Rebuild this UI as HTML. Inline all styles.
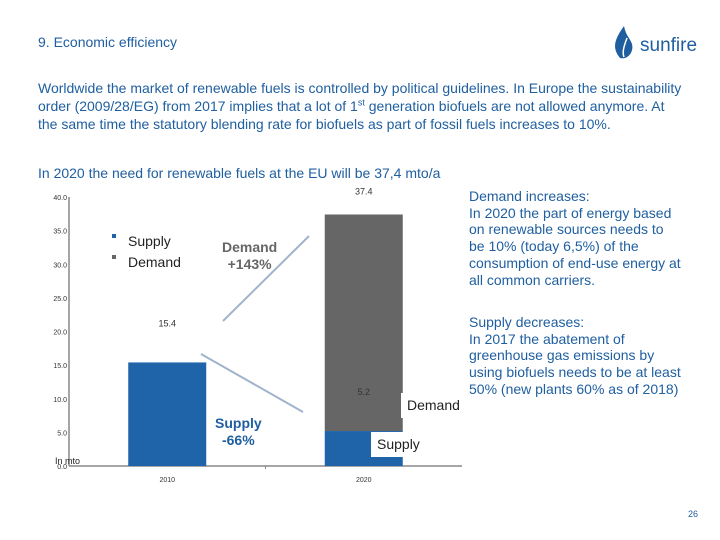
<!DOCTYPE html>
<html><head><meta charset="utf-8"><style>
body{margin:0;width:720px;height:540px;background:#fff;font-family:"Liberation Sans",sans-serif;position:relative;overflow:hidden}
.a{position:absolute}
</style></head><body>
<div class="a" style="left:38px;top:34px;font-size:14px;color:#1f5fa0">9. Economic efficiency</div>
<div class="a" style="left:610px;top:22px;">
<svg width="100" height="40" viewBox="0 0 100 40"><path d="M14 4 C 4 18, 2 26, 10 36 C 18 38, 24 30, 22 22 C 20 16, 16 14, 14 4 Z" fill="#1f5fa0"/><path d="M17 16 C 14 24, 12 30, 14 35" stroke="#fff" stroke-width="1.5" fill="none"/><text x="30" y="29" font-family="Liberation Sans" font-size="19" fill="#1f5fa0">sunfire</text></svg>
</div>
<div class="a" style="left:38px;top:79px;white-space:nowrap;font-size:14px;line-height:18px;color:#1f5fa0">Worldwide the market of renewable fuels is controlled by political guidelines. In Europe the sustainability<br>order (2009/28/EG) from 2017 implies that a lot of 1<sup style="font-size:9px;line-height:0">st</sup> generation biofuels are not allowed anymore. At<br>the same time the statutory blending rate for biofuels as part of fossil fuels increases to 10%.</div>
<div class="a" style="left:38px;top:165px;font-size:14px;color:#1f5fa0">In 2020 the need for renewable fuels at the EU will be 37,4 mto/a</div>
<div class="a" style="left:469px;top:188px;white-space:nowrap;font-size:14px;line-height:16.7px;color:#1f5fa0">Demand increases:<br>In 2020 the part of energy based<br>on renewable sources needs to<br>be 10% (today 6,5%) of the<br>consumption of end-use energy at<br>all common carriers.</div>
<div class="a" style="left:469px;top:314px;white-space:nowrap;font-size:14px;line-height:16.7px;color:#1f5fa0">Supply decreases:<br>In 2017 the abatement of<br>greenhouse gas emissions by<br>using biofuels needs to be at least<br>50% (new plants 60% as of 2018)</div>
<div class="a" style="left:688px;top:509px;font-size:9px;color:#1f5fa0">26</div>
<svg class="a" style="left:0;top:0" width="720" height="540" id="chart"></svg>
<script>
const categories=["2010","2020"];
const supplyValues=[15.4,5.2];
const demandValues=[15.4,37.4];
const yTicks=[0,5,10,15,20,25,30,35,40];
const svg=document.getElementById('chart');
const NS='http://www.w3.org/2000/svg';
const y0=466,yTop=197,yMax=40,x0=69,xEnd=462;
const y=v=>y0-(v/yMax)*(y0-yTop);
const xc=i=>x0+(xEnd-x0)*(i+0.5)/categories.length;
const bw=78;
function mk(t,a,txt){const e=document.createElementNS(NS,t);for(const k in a)e.setAttribute(k,a[k]);if(txt!==undefined)e.textContent=txt;svg.appendChild(e);return e;}
let e;
e=mk('line',{x1:x0,y1:y0,x2:x0,y2:yTop,stroke:'#888','stroke-width':1.5});

e=mk('line',{x1:x0,y1:y0,x2:xEnd,y2:y0,stroke:'#888','stroke-width':1.5});

yTicks.forEach(t=>{
 e=mk('text',{x:x0-2,y:y(t)+3,'font-size':7,'text-anchor':'end',fill:'#333'},t.toFixed(1));
 
});
mk('line',{x1:(x0+xEnd)/2,y1:y0,x2:(x0+xEnd)/2,y2:y0+3,stroke:'#888'});
categories.forEach((c,i)=>{
 const cx=xc(i);
 if(i===1){
  e=mk('rect',{x:cx-bw/2,y:y(demandValues[i]),width:bw,height:y(supplyValues[i])-y(demandValues[i]),fill:'#666'});
  
  e=mk('text',{x:cx,y:y(demandValues[i])-20,'font-size':9,'text-anchor':'middle',fill:'#333'},demandValues[i].toFixed(1));
  
 }
 e=mk('rect',{x:cx-bw/2,y:y(supplyValues[i]),width:bw,height:y0-y(supplyValues[i]),fill:'#1f63a8'});
 
 e=mk('text',{x:cx,y:y(supplyValues[i])-36,'font-size':9,'text-anchor':'middle',fill:'#333'},supplyValues[i].toFixed(1));
 
 e=mk('text',{x:cx,y:y0+16,'font-size':7,'text-anchor':'middle',fill:'#333'},c);
 
});
</script>
<svg class="a" style="left:0;top:0" width="720" height="540">
<line x1="223" y1="321" x2="309" y2="236" stroke="#9fb4cc" stroke-width="2"/>
<line x1="201" y1="354" x2="303" y2="412" stroke="#9fb4cc" stroke-width="2"/>
<rect x="401" y="393" width="60" height="25" fill="#fff"/>
<rect x="371" y="432" width="60" height="25" fill="#fff"/>
</svg>
<div class="a" style="left:112px;top:231px;font-size:14px;color:#222;line-height:21px">
<div><span style="display:inline-block;width:4px;height:4px;background:#1f63a8;vertical-align:top;margin-top:3px;margin-right:12px"></span>Supply</div>
<div><span style="display:inline-block;width:4px;height:4px;background:#666;vertical-align:top;margin-top:3px;margin-right:12px"></span>Demand</div></div>
<div class="a" style="left:222px;top:239px;font-size:14px;font-weight:bold;color:#666;text-align:center;line-height:17px">Demand<br>+143%</div>
<div class="a" style="left:215px;top:415px;font-size:14px;font-weight:bold;color:#1f5fa0;text-align:center;line-height:17px">Supply<br>-66%</div>
<div class="a" style="left:407px;top:397px;font-size:14px;color:#222">Demand</div>
<div class="a" style="left:377px;top:436px;font-size:14px;color:#222">Supply</div>
<div class="a" style="left:55px;top:456px;font-size:9px;color:#222">In mto</div>
</body></html>
